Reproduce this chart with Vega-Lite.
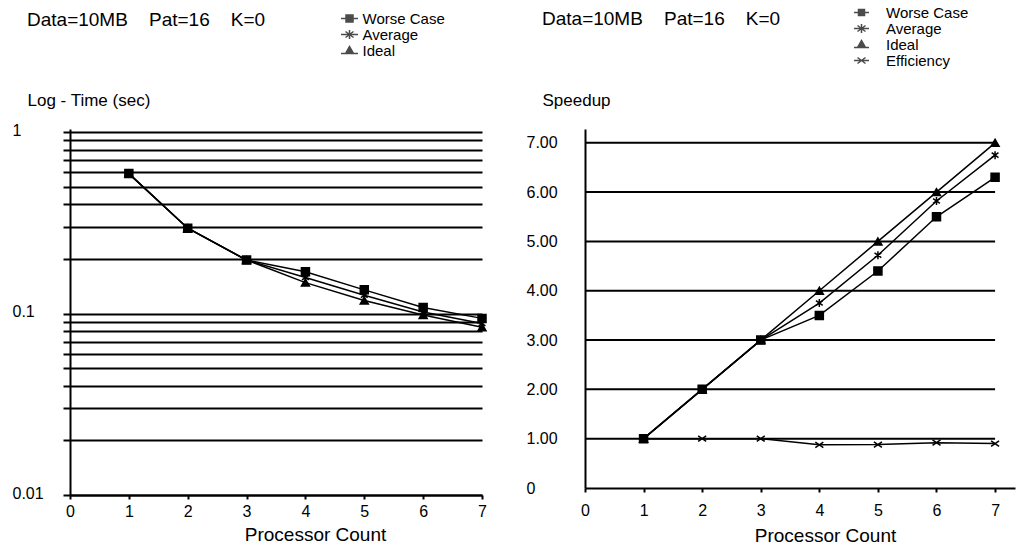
{
  "$schema": "https://vega.github.io/schema/vega-lite/v6.json",
  "background": "white",
  "padding": {"left": 12, "top": 5, "right": 5, "bottom": 5},
  "config": {
    "font": "Liberation Sans",
    "view": {"stroke": null},
    "axis": {"domainColor": "black", "domainWidth": 2, "tickColor": "black", "tickWidth": 2, "labelColor": "black", "titleColor": "black", "labelFont": "Liberation Sans", "titleFont": "Liberation Sans", "titleFontWeight": "normal", "labelFontSize": 16, "titleFontSize": 19},
    "title": {"font": "Liberation Sans", "fontSize": 19, "fontWeight": "normal", "color": "black"},
    "legend": {"labelFont": "Liberation Sans", "labelColor": "black"}
  },
  "datasets": {
    "time": [
      {"p": 1, "series": "Worse Case", "v": 0.59}, {"p": 2, "series": "Worse Case", "v": 0.295}, {"p": 3, "series": "Worse Case", "v": 0.197}, {"p": 4, "series": "Worse Case", "v": 0.17}, {"p": 5, "series": "Worse Case", "v": 0.135}, {"p": 6, "series": "Worse Case", "v": 0.108}, {"p": 7, "series": "Worse Case", "v": 0.094},
      {"p": 1, "series": "Average", "v": 0.59}, {"p": 2, "series": "Average", "v": 0.295}, {"p": 3, "series": "Average", "v": 0.197}, {"p": 4, "series": "Average", "v": 0.158}, {"p": 5, "series": "Average", "v": 0.126}, {"p": 6, "series": "Average", "v": 0.102}, {"p": 7, "series": "Average", "v": 0.088},
      {"p": 1, "series": "Ideal", "v": 0.59}, {"p": 2, "series": "Ideal", "v": 0.295}, {"p": 3, "series": "Ideal", "v": 0.197}, {"p": 4, "series": "Ideal", "v": 0.148}, {"p": 5, "series": "Ideal", "v": 0.118}, {"p": 6, "series": "Ideal", "v": 0.098}, {"p": 7, "series": "Ideal", "v": 0.084}
    ],
    "speedup": [
      {"p": 1, "series": "Worse Case", "v": 1}, {"p": 2, "series": "Worse Case", "v": 2}, {"p": 3, "series": "Worse Case", "v": 3}, {"p": 4, "series": "Worse Case", "v": 3.5}, {"p": 5, "series": "Worse Case", "v": 4.4}, {"p": 6, "series": "Worse Case", "v": 5.5}, {"p": 7, "series": "Worse Case", "v": 6.3},
      {"p": 1, "series": "Average", "v": 1}, {"p": 2, "series": "Average", "v": 2}, {"p": 3, "series": "Average", "v": 3}, {"p": 4, "series": "Average", "v": 3.75}, {"p": 5, "series": "Average", "v": 4.72}, {"p": 6, "series": "Average", "v": 5.82}, {"p": 7, "series": "Average", "v": 6.75},
      {"p": 1, "series": "Ideal", "v": 1}, {"p": 2, "series": "Ideal", "v": 2}, {"p": 3, "series": "Ideal", "v": 3}, {"p": 4, "series": "Ideal", "v": 4}, {"p": 5, "series": "Ideal", "v": 5}, {"p": 6, "series": "Ideal", "v": 6}, {"p": 7, "series": "Ideal", "v": 7},
      {"p": 1, "series": "Efficiency", "v": 1}, {"p": 2, "series": "Efficiency", "v": 1}, {"p": 3, "series": "Efficiency", "v": 1}, {"p": 4, "series": "Efficiency", "v": 0.875}, {"p": 5, "series": "Efficiency", "v": 0.88}, {"p": 6, "series": "Efficiency", "v": 0.92}, {"p": 7, "series": "Efficiency", "v": 0.9}
    ],
    "grid": [{"g": 1}, {"g": 2}, {"g": 3}, {"g": 4}, {"g": 5}, {"g": 6}, {"g": 7}]
  },
  "bounds": "flush",
  "spacing": 103,
  "resolve": {"scale": {"shape": "independent", "x": "independent", "y": "independent"}, "legend": {"shape": "independent"}},
  "hconcat": [
    {
      "width": 412,
      "height": 366,
      "title": {"text": "Data=10MB\u00a0\u00a0\u00a0\u00a0Pat=16\u00a0\u00a0\u00a0\u00a0K=0", "anchor": "start", "frame": "group", "dx": -43, "offset": -19},
      "data": {"name": "time"},
      "resolve": {"scale": {"shape": "independent"}, "legend": {"shape": "independent"}},
      "layer": [
        {
          "mark": {"type": "line", "color": "black", "strokeWidth": 1.5},
          "encoding": {
            "x": {"field": "p", "type": "quantitative", "scale": {"domain": [0, 7], "nice": false},
              "axis": {"values": [0, 1, 2, 3, 4, 5, 6, 7], "format": "d", "grid": false, "tickSize": 4, "labelPadding": 4, "labelFontSize": 16, "title": "Processor Count", "titleX": 245, "titleY": 30, "titleBaseline": "top", "titleAlign": "center", "labelFlush": false}},
            "y": {"field": "v", "type": "quantitative", "scale": {"type": "log", "domain": [0.01, 1.039], "nice": false},
              "axis": {"values": [0.01, 0.02, 0.03, 0.04, 0.05, 0.06, 0.07, 0.08, 0.09, 0.1, 0.2, 0.3, 0.4, 0.5, 0.6, 0.7, 0.8, 0.9, 1],
                "labelExpr": "datum.value == 1 ? '1' : (datum.value == 0.1 ? '0.1' : (datum.value == 0.01 ? '0.01' : ''))",
                "grid": true, "gridColor": "black", "gridWidth": 2, "gridOpacity": 1, "tickSize": 7, "labelAlign": "left", "labelPadding": 51, "labelBaseline": "middle", "labelOffset": -2, "labelFlush": false, "labelOverlap": false, "labelFontSize": 16,
                "title": "Log - Time (sec)", "titleAngle": 0, "titleX": -43, "titleY": -24, "titleAlign": "left", "titleBaseline": "alphabetic", "titleFontSize": 17}},
            "detail": {"field": "series"}
          }
        },
        {
          "mark": {"type": "point", "filled": true, "color": "black", "stroke": "black", "strokeWidth": 1.5, "opacity": 1, "size": 64},
          "encoding": {
            "x": {"field": "p", "type": "quantitative"},
            "y": {"field": "v", "type": "quantitative"},
            "shape": {"field": "series", "type": "nominal",
              "scale": {"domain": ["Worse Case", "Average", "Ideal"], "range": ["square", "M0,-1V1M-0.85,-0.6L0.85,0.6M-0.85,0.6L0.85,-0.6", "triangle-up"]},
              "legend": null}
          }
        },
        {
          "mark": {"type": "point", "filled": true, "color": "black", "stroke": "black", "strokeWidth": 1.5, "size": 0},
          "encoding": {
            "x": {"field": "p", "type": "quantitative"},
            "y": {"field": "v", "type": "quantitative"},
            "shape": {"field": "series", "type": "nominal",
              "scale": {"domain": ["Worse Case", "Average", "Ideal"], "range": ["M-1.7,0H1.7M-0.7,-0.7H0.7V0.7H-0.7Z", "M-1.7,0H1.7M0,-0.9V0.9M-0.8,-0.6L0.8,0.6M-0.8,0.6L0.8,-0.6", "M-1.7,0.6H1.7M-0.8,0.6L0,-0.8L0.8,0.6Z"]},
              "legend": {"title": null, "orient": "none", "legendX": 272, "legendY": -118, "labelFontSize": 15, "rowPadding": 0, "gridAlign": "none", "labelOffset": 5.5, "symbolSize": 100,
                "encode": {"symbols": {"update": {"stroke": {"value": "black"}, "strokeWidth": {"value": 1.5}, "fill": {"value": "black"}, "opacity": {"value": 1}, "size": {"value": 100}}}}}}
          }
        }
      ]
    },
    {
      "width": 430,
      "height": 359,
      "title": {"text": "Data=10MB\u00a0\u00a0\u00a0\u00a0Pat=16\u00a0\u00a0\u00a0\u00a0K=0", "anchor": "start", "frame": "group", "dx": -43, "offset": -24},
      "resolve": {"scale": {"shape": "independent"}, "legend": {"shape": "independent"}},
      "layer": [
        {
          "data": {"name": "grid"},
          "mark": {"type": "rule", "color": "black", "strokeWidth": 2},
          "encoding": {
            "y": {"field": "g", "type": "quantitative"},
            "x": {"datum": 0},
            "x2": {"datum": 7}
          }
        },
        {
          "data": {"name": "speedup"},
          "mark": {"type": "line", "color": "black", "strokeWidth": 1.5},
          "encoding": {
            "x": {"field": "p", "type": "quantitative", "scale": {"domain": [0, 7.34], "nice": false},
              "axis": {"values": [0, 1, 2, 3, 4, 5, 6, 7], "format": "d", "grid": false, "tickSize": 4, "labelPadding": 10, "labelFontSize": 16, "title": "Processor Count", "titleX": 240, "titleY": 38, "titleBaseline": "top", "titleAlign": "center", "labelFlush": false}},
            "y": {"field": "v", "type": "quantitative", "scale": {"domain": [0, 7.28], "nice": false},
              "axis": {"values": [0, 1, 2, 3, 4, 5, 6, 7], "labelExpr": "datum.value == 0 ? '0' : format(datum.value, '.2f')", "grid": false, "tickSize": 0, "labelAlign": "left", "labelPadding": 59, "labelBaseline": "middle", "labelFlush": false, "labelOverlap": false, "labelFontSize": 16,
                "title": "Speedup", "titleAngle": 0, "titleX": -43, "titleY": -24, "titleAlign": "left", "titleBaseline": "alphabetic", "titleFontSize": 17}},
            "detail": {"field": "series"}
          }
        },
        {
          "data": {"name": "speedup"},
          "mark": {"type": "point", "filled": true, "color": "black", "stroke": "black", "strokeWidth": 1.5, "opacity": 1, "size": 64},
          "encoding": {
            "x": {"field": "p", "type": "quantitative"},
            "y": {"field": "v", "type": "quantitative"},
            "shape": {"field": "series", "type": "nominal",
              "scale": {"domain": ["Worse Case", "Average", "Ideal", "Efficiency"], "range": ["square", "M0,-1V1M-0.85,-0.6L0.85,0.6M-0.85,0.6L0.85,-0.6", "triangle-up", "M-1,-0.7L1,0.7M-1,0.7L1,-0.7"]},
              "legend": null}
          }
        },
        {
          "data": {"name": "speedup"},
          "mark": {"type": "point", "filled": true, "color": "black", "stroke": "black", "strokeWidth": 1.5, "size": 0},
          "encoding": {
            "x": {"field": "p", "type": "quantitative"},
            "y": {"field": "v", "type": "quantitative"},
            "shape": {"field": "series", "type": "nominal",
              "scale": {"domain": ["Worse Case", "Average", "Ideal", "Efficiency"], "range": ["M-1.5,0H1.5M-0.6,-0.6H0.6V0.6H-0.6Z", "M-1.5,0H1.5M0,-0.9V0.9M-0.8,-0.6L0.8,0.6M-0.8,0.6L0.8,-0.6", "M-1.5,0.6H1.5M-0.8,0.6L0,-0.8L0.8,0.6Z", "M-1.5,0H1.5M-0.8,-0.6L0.8,0.6M-0.8,0.6L0.8,-0.6"]},
              "legend": {"title": null, "orient": "none", "legendX": 269, "legendY": -124, "labelFontSize": 15, "rowPadding": 0, "gridAlign": "none", "labelOffset": 17, "symbolSize": 100,
                "encode": {"symbols": {"update": {"stroke": {"value": "black"}, "strokeWidth": {"value": 1.5}, "fill": {"value": "black"}, "opacity": {"value": 1}, "size": {"value": 100}}}}}}
          }
        }
      ]
    }
  ]
}
